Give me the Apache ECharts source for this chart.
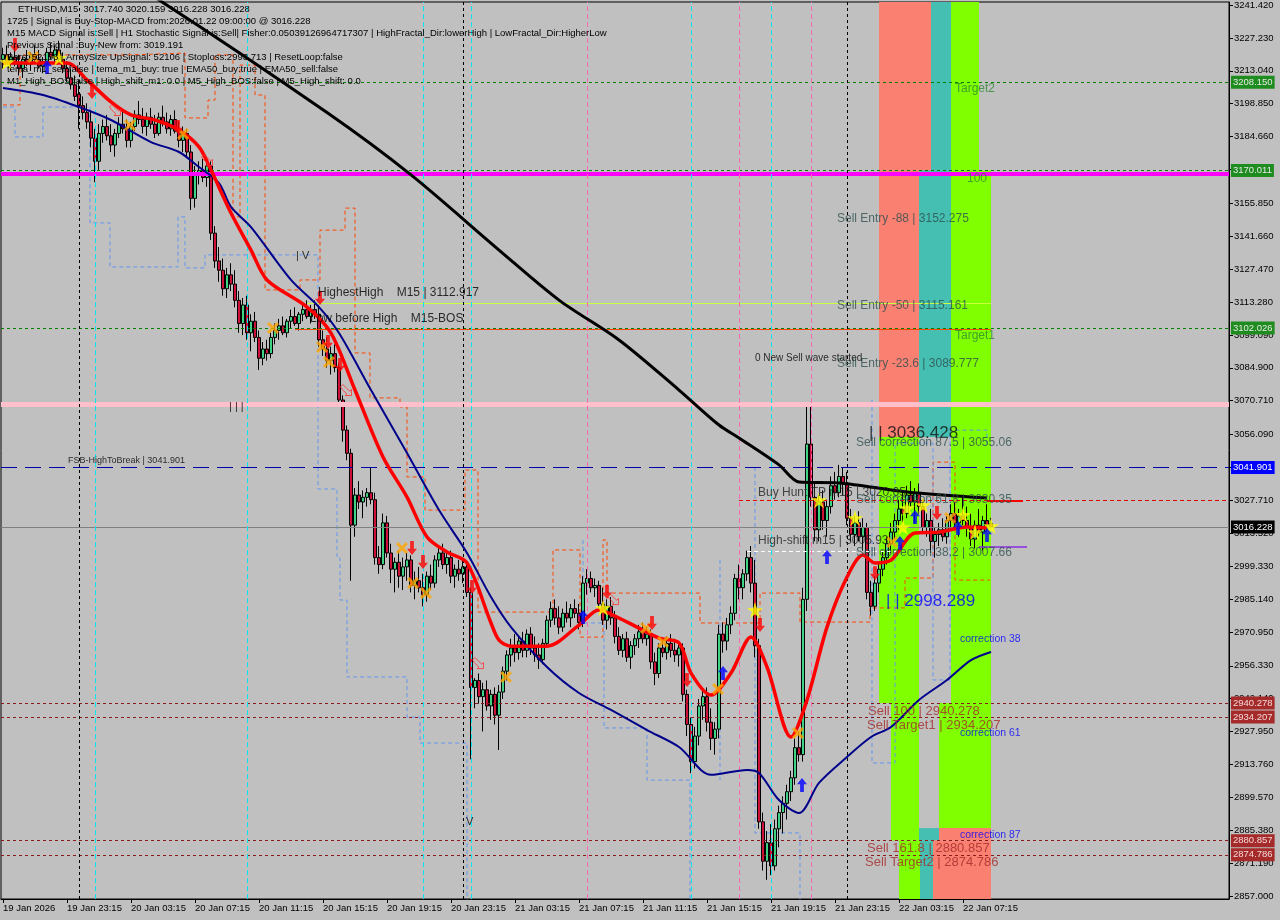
<!DOCTYPE html>
<html><head><meta charset="utf-8">
<script src="https://cdn.jsdelivr.net/npm/echarts@6/dist/echarts.min.js"></script>
<style>html,body{margin:0;padding:0;background:#c0c0c0}#c{width:1280px;height:920px}</style>
</head><body><div id="c"></div>
<script>
// ---------- DATA ----------
const tickLabels = ['19 Jan 2026','19 Jan 23:15','20 Jan 03:15','20 Jan 07:15','20 Jan 11:15','20 Jan 15:15','20 Jan 19:15','20 Jan 23:15','21 Jan 03:15','21 Jan 07:15','21 Jan 11:15','21 Jan 15:15','21 Jan 19:15','21 Jan 23:15','22 Jan 03:15','22 Jan 07:15'];
const yTicks = [3241.42,3227.23,3213.04,3198.85,3184.66,3170.47,3155.85,3141.66,3127.47,3113.28,3099.09,3084.90,3070.71,3056.09,3041.90,3027.71,3013.52,2999.33,2985.14,2970.95,2956.33,2942.14,2927.95,2913.76,2899.57,2885.38,2871.19,2857.00];
const slotCount = 307;
// bars: [open, high, low, close]
const ohlc = [
[3218,3223,3214,3220],[3220,3224,3216,3217],[3217,3221,3213,3219],[3219,3223,3215,3216],[3216,3220,3211,3214],
[3214,3219,3210,3218],[3218,3222,3215,3216],[3216,3221,3213,3220],[3220,3224,3217,3218],[3218,3222,3214,3215],
[3215,3219,3212,3217],[3217,3223,3215,3221],[3221,3225,3218,3219],[3219,3224,3216,3222],[3222,3226,3217,3218],
[3218,3221,3212,3214],[3214,3217,3208,3210],[3210,3214,3205,3207],[3207,3211,3200,3202],[3203,3209,3188,3198],
[3198,3202,3192,3195],[3195,3199,3188,3191],[3191,3196,3180,3184],[3184,3188,3165,3174],[3174,3190,3170,3186],
[3186,3192,3182,3189],[3189,3194,3183,3185],[3185,3190,3178,3181],[3181,3188,3176,3186],[3186,3193,3184,3190],
[3190,3196,3186,3188],[3188,3192,3180,3183],[3183,3191,3180,3189],[3189,3196,3187,3194],[3194,3200,3190,3192],
[3192,3197,3186,3189],[3189,3195,3185,3193],[3193,3197,3188,3190],[3190,3194,3184,3186],[3186,3195,3185,3193],
[3193,3198,3189,3191],[3191,3195,3186,3188],[3188,3194,3185,3192],[3192,3196,3186,3187],[3187,3191,3180,3183],
[3183,3189,3178,3186],[3186,3188,3176,3178],[3178,3181,3153,3158],[3158,3172,3154,3168],[3168,3174,3164,3170],
[3170,3175,3165,3167],[3167,3176,3163,3172],[3172,3174,3140,3143],[3143,3146,3128,3131],[3131,3137,3122,3127],
[3127,3132,3116,3119],[3119,3128,3115,3125],[3125,3130,3118,3121],[3121,3127,3111,3114],[3114,3118,3100,3104],
[3104,3115,3099,3112],[3112,3116,3097,3100],[3100,3108,3092,3105],[3105,3109,3096,3098],[3098,3101,3084,3089],
[3089,3096,3086,3093],[3093,3097,3088,3091],[3091,3100,3089,3098],[3098,3104,3095,3101],[3101,3106,3097,3103],
[3103,3107,3099,3100],[3100,3106,3098,3105],[3105,3110,3102,3107],[3107,3111,3103,3104],[3104,3109,3101,3108],
[3108,3113,3105,3110],[3110,3114,3106,3107],[3107,3112,3104,3110],[3110,3114,3106,3108],[3108,3112,3094,3097],
[3097,3101,3090,3093],[3093,3098,3085,3088],[3088,3094,3082,3091],[3091,3095,3083,3085],[3085,3087,3068,3071],
[3071,3073,3053,3058],[3058,3060,3045,3048],[3048,3050,2993,3017],[3017,3033,3012,3030],[3030,3036,3024,3027],
[3027,3032,3020,3029],[3029,3033,3025,3031],[3031,3042,3026,3028],[3028,3031,3000,3003],[3003,3008,2996,3000],
[3000,3022,2998,3018],[3018,3021,3003,3005],[3005,3009,2992,2998],[2998,3003,2988,3001],[3001,3006,2990,2995],
[2995,3003,2989,2999],[2999,3005,2993,3002],[3002,3004,2988,2991],[2991,2997,2985,2993],[2993,2999,2988,2990],
[2990,2996,2982,2987],[2987,2997,2984,2995],[2995,3000,2989,2992],[2992,3004,2990,3002],[3002,3008,2999,3005],
[3005,3009,2998,3000],[3000,3006,2996,3003],[3003,3006,2992,2995],[2995,3000,2990,2998],[2998,3002,2993,2996],
[2996,3003,2992,2999],[2999,3001,2986,2988],[2988,2990,2916,2947],[2947,2951,2938,2950],[2950,2953,2940,2943],
[2943,2949,2928,2946],[2946,2950,2937,2939],[2939,2946,2933,2944],[2944,2947,2931,2935],[2935,2948,2920,2945],
[2945,2956,2942,2954],[2954,2963,2950,2961],[2961,2968,2956,2964],[2964,2970,2958,2962],[2962,2969,2959,2967],
[2967,2971,2960,2963],[2963,2972,2960,2970],[2970,2973,2961,2964],[2964,2969,2958,2961],[2961,2966,2955,2959],
[2959,2968,2957,2966],[2966,2978,2964,2976],[2976,2984,2973,2981],[2981,2985,2974,2977],[2977,2982,2970,2973],
[2973,2981,2971,2979],[2979,2984,2975,2977],[2977,2983,2973,2981],[2981,2985,2977,2979],[2979,2983,2972,2975],
[2975,2995,2973,2992],[2992,2998,2987,2994],[2994,2997,2988,2990],[2990,2994,2986,2991],[2991,2993,2980,2983],
[2983,2990,2974,2976],[2976,2985,2972,2982],[2982,2986,2974,2977],[2977,2980,2966,2969],[2969,2973,2961,2963],
[2963,2970,2960,2968],[2968,2971,2958,2960],[2960,2967,2955,2965],[2965,2970,2961,2968],[2968,2974,2964,2971],
[2971,2975,2966,2968],[2968,2973,2965,2970],[2970,2972,2955,2958],[2958,2962,2948,2953],[2953,2966,2951,2964],
[2964,2968,2960,2962],[2962,2969,2959,2966],[2966,2970,2960,2963],[2963,2968,2958,2961],[2961,2966,2956,2964],
[2964,2966,2941,2944],[2944,2946,2926,2931],[2931,2934,2910,2915],[2915,2930,2912,2926],[2926,2942,2922,2939],
[2939,2946,2933,2943],[2943,2947,2928,2932],[2932,2938,2920,2925],[2925,2932,2918,2929],[2929,2974,2925,2970],
[2970,2975,2962,2967],[2967,2977,2963,2974],[2974,2982,2970,2979],[2979,2996,2976,2994],[2994,3000,2985,2990],
[2990,2998,2985,2996],[2996,3006,2993,3003],[3003,3008,2988,2992],[2992,3002,2960,2965],[2965,2968,2886,2889],
[2889,2893,2868,2872],[2872,2885,2864,2880],[2880,2888,2866,2870],[2870,2890,2868,2886],[2886,2896,2878,2893],
[2893,2900,2884,2897],[2897,2905,2890,2902],[2902,2911,2898,2908],[2908,2925,2905,2921],[2921,2928,2915,2918],
[2918,2990,2915,2985],[2985,3068,2980,3052],[3052,3068,3025,3029],[3029,3035,3010,3015],[3015,3030,3010,3027],
[3027,3032,3015,3019],[3019,3028,3012,3025],[3025,3038,3022,3034],[3034,3040,3028,3031],[3031,3043,3029,3038],
[3038,3042,3030,3035],[3035,3040,3017,3020],[3020,3024,3010,3013],[3013,3021,3008,3018],[3018,3023,3010,3012],
[3012,3020,3006,3016],[3016,3018,2985,2988],[2988,2993,2978,2982],[2982,2995,2980,2992],[2992,3001,2988,2998],
[2998,3006,2995,3003],[3003,3012,3000,3009],[3009,3018,3005,3014],[3014,3022,3011,3019],[3019,3028,3015,3024],
[3024,3032,3018,3022],[3022,3034,3020,3030],[3030,3036,3025,3027],[3027,3033,3018,3031],[3031,3035,3022,3025],
[3025,3028,3014,3016],[3016,3022,3012,3019],[3019,3024,3005,3010],[3010,3016,3003,3013],[3013,3018,3008,3015],
[3015,3020,3010,3012],[3012,3021,3009,3019],[3019,3026,3015,3022],[3022,3027,3016,3018],[3018,3024,3012,3021],
[3021,3029,3017,3019],[3019,3025,3012,3016],[3016,3022,3008,3011],[3011,3019,3007,3017],[3017,3024,3012,3014],
[3014,3021,3006,3019],[3019,3026,3014,3017],[3017.74,3020.159,3016.228,3016.228]
];
// moving averages [barIndex, price]
const maBlack = [[30,3252],[39,3243.6],[81,3195],[102,3168.1],[124,3135.7],[139,3114.1],[154,3096.9],[169,3075.3],[179,3060.2],[184,3054.6],[194,3043.0],[199,3035.6],[209,3035.2],[226,3031.3],[246,3028.7]];
const maRed = [[0,3216.4],[16,3216.4],[21,3209.1],[27,3199.6],[32,3194.0],[38,3191.8],[44,3187.5],[49,3180.2],[52,3170.2],[57,3151.7],[62,3135.7],[66,3122.8],[76,3111.1],[82,3099.9],[88,3075.3],[95,3046.4],[101,3029.1],[106,3011.9],[111,3005.4],[116,3000.7],[122,2974.8],[124,2967.4],[127,2964.8],[136,2964.8],[144,2973.9],[149,2980.4],[154,2976.9],[159,2972.6],[164,2968.3],[169,2966.2],[172,2953.2],[177,2943.7],[182,2953.2],[187,2968.7],[191,2955.8],[197,2925.6],[201,2941.6],[206,2973.0],[211,2994.6],[215,3004.1],[218,3000.7],[222,3001.9],[228,3013.6],[234,3014.0],[241,3016.2],[246,3015.8]];
const maNavy = [[0,3205.6],[10,3202.6],[19,3197.4],[27,3191.8],[37,3182.3],[44,3178.0],[49,3171.5],[54,3164.6],[57,3154.3],[62,3145.6],[72,3122.8],[79,3111.1],[84,3099.9],[92,3075.3],[101,3048.1],[109,3023.5],[116,3005.0],[122,2986.0],[127,2973.0],[136,2955.8],[144,2944.6],[152,2937.3],[161,2928.6],[169,2921.3],[177,2909.3],[186,2911.4],[189,2910.1],[194,2898.4],[199,2892.8],[204,2905.8],[211,2917.0],[217,2925.6],[222,2929.9],[229,2941.6],[236,2950.2],[242,2958.8],[247,2962.3]];
// upper (orange) and lower (blue) step bands
const bandUpper = [[0,3198.3],[4.25,3198.3],[4.25,3219.9],[31.75,3219.9],[31.75,3220.7],[45.5,3220.7],[45.5,3192.7],[51.25,3192.7],[51.25,3200.4],[53,3200.4],[53,3219.9],[57.5,3219.9],[57.5,3150.0],[59.25,3150.0],[59.25,3215.5],[63,3215.5],[63,3202.6],[65.5,3202.6],[65.5,3118.5],[74.25,3118.5],[74.25,3122.8],[79.25,3122.8],[79.25,3144.3],[85.5,3144.3],[85.5,3153.8],[88,3153.8],[88,3091.3],[91.75,3091.3],[91.75,3071.9],[99.25,3071.9],[99.25,3068.0],[101,3068.0],[101,3037.8],[105.5,3037.8],[105.5,3023.5],[115.5,3023.5],[115.5,3040.8],[118.75,3040.8],[118.75,2979.5],[137.5,2979.5],[137.5,3006.3],[144.25,3006.3],[144.25,2968.7],[150,2968.7],[150,3010.6],[151,3010.6],[151,2987.7],[174.25,2987.7],[174.25,2974.8],[189.25,2974.8],[189.25,2987.7],[199.25,2987.7],[199.25,2975.2],[216.75,2975.2],[216.75,2981.3],[225.5,2981.3],[225.5,2994.2],[232.5,2994.2],[232.5,3044.2],[238,3044.2],[238,2993.3],[246.75,2993.3]];
const bandLower = [
 [[0,3197.4],[3,3197.4],[3,3184.5],[10,3184.5],[10,3197.4],[21.75,3197.4],[21.75,3147.4],[26.75,3147.4],[26.75,3128.4],[43.75,3128.4],[43.75,3150.0],[45.5,3150.0],[45.5,3128.0],[50.5,3128.0],[50.5,3133.6],[78.75,3133.6],[78.75,3032.6],[83.5,3032.6],[83.5,3002.8],[84.25,3002.8],[84.25,2984.7],[86,2984.7],[86,2951.5],[101,2951.5],[101,2934.2],[104.25,2934.2],[104.25,2923.0],[116,2923.0],[116,2855.0]],
 [[145,3010.6],[145,2974.8],[150.25,2974.8],[150.25,2929.5],[161,2929.5],[161,2907.0],[171.75,2907.0],[171.75,2855.0]],
 [[179.25,3002.0],[179.25,2907.0]],
 [[188,3042.1],[188,2884.2],[199.25,2884.2],[199.25,2855.0]],
 [[217.25,3071.0],[217.25,2914.4],[223,2914.4],[223,3052.4],[232.5,3052.4],[232.5,2950.2],[236.75,2950.2],[236.75,3058.0],[246,3058.0],[246,3051.6]]
];
// fib zones [fromBar, toBar, lowPrice, highPrice, kind]
const zones = [
 [219,232,3170.0,3243,'salmon'],[232,237,3170.0,3243,'teal'],[237,244,3170.0,3243,'green'],
 [219,229,3055.0,3170.0,'salmon'],[229,237,3055.0,3170.0,'teal'],[237,247,3055.0,3170.0,'green'],
 [219,229,2940.3,3055.0,'green'],[222,229,2881.0,2940.3,'green'],[224,229.25,2855,2881.0,'green'],
 [237,247,2940.3,3055.0,'green'],[234,247,2886.3,2940.3,'green'],
 [229,234,2881.0,2886.3,'teal'],[234,247,2881.0,2886.3,'salmon'],
 [229.25,232.5,2855,2881.0,'teal'],[232.5,247,2855,2881.0,'salmon']
];
// signal markers [barIndex, price]
const stars = [[1,3216.8],[14,3218.6],[150,2981.3],[188,2980.4],[204,3027.8],[213,3020.1],[225,3016.2],[226,3024.4],[230,3025.7],[240,3021.4],[243,3014.0],[247,3016.6]];
const crosses = [[7.5,3219.0],[31.75,3189.6],[45,3185.8],[67.5,3102.1],[79.75,3093.9],[81.5,3087.4],[99.75,3007.1],[102.5,2992.0],[105.75,2987.7],[125.75,2951.5],[160.75,2972.6],[165,2966.6],[178.75,2946.3],[198.75,2927.3],[222.25,3009.7],[236.75,3020.1]];
const downArrows = [[3,3224.2],[22.25,3203.9],[43.75,3188.8],[79.25,3115.0],[81.25,3096.0],[84.25,3086.1],[102.25,3007.1],[105,3001.1],[117.25,2990.3],[151,2988.2],[162.25,2974.8],[171,2950.2],[189.25,2973.9],[218,2996.3],[233.5,3022.2]];
const upArrows = [[11,3214.7],[145,2977.4],[180,2953.2],[199.75,2904.9],[206,3003.3],[224.25,3009.3],[228,3020.5],[238.75,3015.8],[246,3012.8]];
const hollowArrows = [[28,3196.1],[51,3174.6],[85.75,3075.3],[118.75,2957.5],[152.5,2985.1]];
// price levels
const levelTags = [3208.150,3170.011,3102.026,3041.901,3016.228,2940.278,2934.207,2880.857,2874.786];
const infoLines = [
 'ETHUSD,M15  3017.740 3020.159 3016.228 3016.228',
 '1725 | Signal is Buy-Stop-MACD from:2026.01.22 09:00:00 @ 3016.228',
 'M15 MACD Signal is:Sell | H1 Stochastic Signal is:Sell| Fisher:0.05039126964717307 | HighFractal_Dir:lowerHigh | LowFractal_Dir:HigherLow',
 'Previous Signal :Buy-New from: 3019.191',
 'Bars: 52106 | ArraySize UpSignal: 52106 | Stoploss:2993.713 | ResetLoop:false',
 'tema_m1_sell:false | tema_m1_buy: true | EMA50_buy:true | EMA50_sell:false',
 'M1_High_BOS:false | High_shift_m1: 0.0 | M5_High_BOS:false | M5_High_shift: 0.0'
];
// ---------- STYLE / LAYOUT ----------
const FONT = '"Liberation Sans", Arial, sans-serif';
const zoneColors = {salmon:'#FA8072', teal:'#45BFB2', green:'#7FFF00'};
const annotations = [
 [238,3205.2,'Target2','#2f8a2f',12],[241,3166.4,'100','#2f8a2f',12],
 [208.5,3149.1,'Sell Entry -88 | 3152.275','#2f4f4f',12],[208.5,3111.6,'Sell Entry -50 | 3115.161','#2f4f4f',12],
 [238,3098.6,'Target1','#2f8a2f',12],[208.5,3086.5,'Sell Entry -23.6 | 3089.777','#2f4f4f',12],
 [188,3089.1,'0 New Sell wave started','#000',10],
 [216.5,3056.8,'| | 3036.428','#111',17],[213.25,3052.5,'Sell correction 87.5 | 3055.06','#2f4f4f',12],
 [188.75,3030.9,'Buy Hunt TP m15 | 3020.65','#222',12],[213.25,3027.8,'Sell correction 61.8 | 3030.35','#2f4f4f',12],
 [188.75,3010.2,'High-shift m15 | 3005.93','#222',12],[213.25,3005.0,'Sell correction 38.2 | 3007.66','#2f4f4f',12],
 [220.75,2984.3,'| | 2998.289','#0000ff',17],[239.25,2967.9,'correction 38','#0000ff',10.5],
 [216.25,2936.8,'Sell 100 | 2940.278','#a52a2a',13],[216,2930.8,'Sell Target1 | 2934.207','#a52a2a',13],
 [239.25,2927.3,'correction 61','#0000ff',10.5],[239.25,2883.3,'correction 87','#0000ff',10.5],
 [216,2877.7,'Sell 161.8 | 2880.857','#a52a2a',13],[215.5,2871.7,'Sell Target2 | 2874.786','#a52a2a',13],
 [78.75,3117.2,'HighestHigh    M15 | 3112.917','#000',12],[76.75,3105.9,'Low before High    M15-BOS','#000',12],
 [16.25,3044.7,'FSB-HighToBreak | 3041.901','#000',9],
 [73.25,3133.1,'| V','#000',11],[56.5,3068.0,'| | |','#000',11],[115.75,2888.9,'V','#000',11]
];
const tagStyle = {
 3208.150:['#1e8c1e','#e8e8e8'],3170.011:['#1e8c1e','#e8e8e8'],3102.026:['#1e8c1e','#e8e8e8'],
 3041.901:['#0000ff','#ffffff'],3016.228:['#000000','#ffffff'],
 2940.278:['#a52a2a','#f4d8d8'],2934.207:['#a52a2a','#f4d8d8'],2880.857:['#a52a2a','#f4d8d8'],2874.786:['#a52a2a','#f4d8d8']
};
const tagLine = {
 3208.150:{color:'#008000',type:[3,3],width:1},3170.011:{color:'#008000',type:[3,3],width:1},3102.026:{color:'#008000',type:[3,3],width:1},
 3041.901:{color:'#0000aa',type:[16,8],width:1.2},3016.228:{color:'#808080',type:'solid',width:1},
 2940.278:{color:'#8b1a1a',type:[3,3],width:1},2934.207:{color:'#8b1a1a',type:[3,3],width:1},
 2880.857:{color:'#8b1a1a',type:[3,3],width:1},2874.786:{color:'#8b1a1a',type:[3,3],width:1}
};
const SYM = {
 star:'path://M50,0 L61,35 L98,35 L68,57 L79,91 L50,70 L21,91 L32,57 L2,35 L39,35 Z',
 cross:'path://M0,18 L18,0 L50,32 L82,0 L100,18 L68,50 L100,82 L82,100 L50,68 L18,100 L0,82 L32,50 Z',
 down:'path://M33,0 L67,0 L67,55 L95,55 L50,100 L5,55 L33,55 Z',
 up:'path://M50,0 L95,45 L67,45 L67,100 L33,100 L33,45 L5,45 Z',
 hollow:'path://M20,0 L40,20 L80,60 L95,45 L95,100 L40,100 L55,85 L15,45 L0,20 Z'
};

const chart = echarts.init(document.getElementById('c'), null, {renderer:'canvas'});
const cats = Array.from({length: slotCount}, (_, i) => String(i));
const candleData = ohlc.map(r => [r[0], r[3], r[2], r[1]]);

const markLines = [];
levelTags.forEach(v => {
  markLines.push({yAxis: v, lineStyle: tagLine[v], label: {show:true, position:'end', distance:2,
    formatter: () => v.toFixed(3), backgroundColor: tagStyle[v][0], color: tagStyle[v][1],
    padding:[2,2,1,2], fontSize:9.5, fontFamily: FONT}});
});
markLines.push({yAxis: 3168.5, lineStyle:{color:'#ff00ff', width:4, type:'solid'}, label:{show:false}});
markLines.push({yAxis: 3069.3, lineStyle:{color:'#ffc0cb', width:5, type:'solid'}, label:{show:false}});
const seg = (x1,x2,y,ls) => [{coord:[x1,y], lineStyle:ls, label:{show:false}},{coord:[x2,y]}];
markLines.push(seg(76,247,3112.9,{color:'#c8ff40',width:1,type:'solid'}));
markLines.push(seg(73,247,3101.6,{color:'#ff4500',width:1,type:'solid'}));
markLines.push(seg(184,306.5,3027.71,{color:'#e00000',width:1,type:[4,3]}));
markLines.push(seg(246,255,3027.71,{color:'#ff0000',width:2,type:'solid'}));
markLines.push(seg(186,224,3005.9,{color:'#ffffff',width:1,type:[4,3]}));
markLines.push(seg(244,256,3007.7,{color:'#8a2be2',width:1.5,type:'solid'}));
[19,115,211].forEach(x => markLines.push({xAxis:x, lineStyle:{color:'#000',type:[3,3],width:1}, label:{show:false}}));
[23,61,105,117,172,192].forEach(x => markLines.push({xAxis:x, lineStyle:{color:'#00e8f0',type:[5,3],width:1}, label:{show:false}}));
[146,184,202].forEach(x => markLines.push({xAxis:x, lineStyle:{color:'#ff69b4',type:[5,3],width:1}, label:{show:false}}));

const markerSeries = (name, data, sym, size, color, extra) => Object.assign({
  name, type:'scatter', xAxisIndex:1, yAxisIndex:0, data, symbol: sym, symbolSize: size, z:6,
  itemStyle:{color}, silent:true
}, extra || {});

const option = {
  animation:false,
  backgroundColor:'#c0c0c0',
  textStyle:{fontFamily: FONT},
  grid:{left:1, right:51, top:2, bottom:21, show:true, borderColor:'#000', borderWidth:1, backgroundColor:'transparent'},
  xAxis:[
    {type:'category', data: cats, boundaryGap:true,
     axisLine:{show:true, onZero:false, lineStyle:{color:'#000'}},
     axisTick:{show:true, alignWithLabel:true, length:4, lineStyle:{color:'#000'},
       interval:(idx) => idx % 16 === 0 && idx / 16 < tickLabels.length},
     axisLabel:{show:true, interval:15, align:'left', margin:4, color:'#000', fontSize:9.5, fontFamily: FONT,
       formatter:(val, idx) => (idx % 16 === 0 && tickLabels[idx/16]) ? tickLabels[idx/16] : ''},
     splitLine:{show:false}},
    {type:'value', min:-0.5, max:slotCount-0.5, show:false, axisLine:{onZero:false}, axisTick:{show:false}, axisLabel:{show:false}, splitLine:{show:false}}
  ],
  yAxis:{type:'value', position:'right', min:2855.71, max:3242.72, scale:true,
    axisLine:{show:true, onZero:false, lineStyle:{color:'#000'}},
    axisTick:{show:true, inside:false, length:4, customValues: yTicks, lineStyle:{color:'#000'}},
    axisLabel:{customValues: yTicks, formatter: v => v.toFixed(3), color:'#000', fontSize:9.5, margin:5, fontFamily: FONT},
    minorTick:{show:false},
    splitLine:{show:false}},
  graphic: infoLines.map((t, i) => ({type:'text', left: i === 0 ? 18 : 7, top: 4 + 12*i, z:100,
    style:{text:t, font:'9.5px "Liberation Sans", Arial, sans-serif', fill:'#000'}})),
  series:[
    {name:'zones', type:'custom', xAxisIndex:1, yAxisIndex:0, z:1, clip:true, silent:true,
     data: zones.map(z => z.slice(0,4)),
     encode:{x:[0,1], y:[2,3]},
     renderItem:(params, api) => {
       const a = api.coord([api.value(0), api.value(3)]);
       const b = api.coord([api.value(1), api.value(2)]);
       return {type:'rect', shape:{x:a[0], y:a[1], width:b[0]-a[0], height:b[1]-a[1]},
         style:{fill: zoneColors[zones[params.dataIndex][4]]}};
     }},
    {name:'bandUpper', type:'line', xAxisIndex:1, yAxisIndex:0, data: bandUpper, showSymbol:false, z:2, silent:true,
     lineStyle:{color:'#ff4500', width:1, type:[4,3]}},
    ...bandLower.map((s, i) => ({name:'bandLower'+i, type:'line', xAxisIndex:1, yAxisIndex:0, data:s, showSymbol:false, z:2, silent:true,
     lineStyle:{color:'#6495ed', width:1, type:[4,3]}})),
    {name:'ETHUSD', type:'candlestick', xAxisIndex:0, yAxisIndex:0, data: candleData, z:3, barWidth:3,
     itemStyle:{color:'#3fd283', color0:'#cc1236', borderColor:'#000', borderColor0:'#000', borderWidth:1}},
    {name:'levels', type:'line', xAxisIndex:1, yAxisIndex:0, data:[[-5,3000]], showSymbol:false, z:4, silent:true,
     lineStyle:{opacity:0},
     markLine:{silent:true, symbol:['none','none'], animation:false, data: markLines}},
    {name:'maBlack', type:'line', xAxisIndex:1, yAxisIndex:0, data: maBlack, showSymbol:false, smooth:0.3, z:5, silent:true,
     lineStyle:{color:'#000', width:3}},
    {name:'maNavy', type:'line', xAxisIndex:1, yAxisIndex:0, data: maNavy, showSymbol:false, smooth:0.3, z:5, silent:true,
     lineStyle:{color:'#00008b', width:2}},
    {name:'maRed', type:'line', xAxisIndex:1, yAxisIndex:0, data: maRed, showSymbol:false, smooth:0.3, z:5, silent:true,
     lineStyle:{color:'#ff0000', width:3.5}},
    markerSeries('stars', stars, SYM.star, 16, '#ffff00'),
    markerSeries('crosses', crosses, SYM.cross, 12, '#ffa500'),
    markerSeries('down', downArrows, SYM.down, [10,14], '#ff0000'),
    markerSeries('up', upArrows, SYM.up, [10,14], '#0000ff'),
    markerSeries('hollow', hollowArrows, SYM.hollow, [11,11], 'rgba(0,0,0,0)', {itemStyle:{color:'rgba(0,0,0,0)', borderColor:'#ff3030', borderWidth:1}}),
    {name:'texts', type:'scatter', xAxisIndex:1, yAxisIndex:0, symbolSize:0, z:7, silent:true,
     data: annotations.map(a => ({value:[a[0], a[1]],
       label:{show:true, position:'right', distance:0, formatter: a[2], color:a[3], fontSize:a[4], fontFamily: FONT}}))}
  ]
};
chart.setOption(option);
</script>
</body></html>
